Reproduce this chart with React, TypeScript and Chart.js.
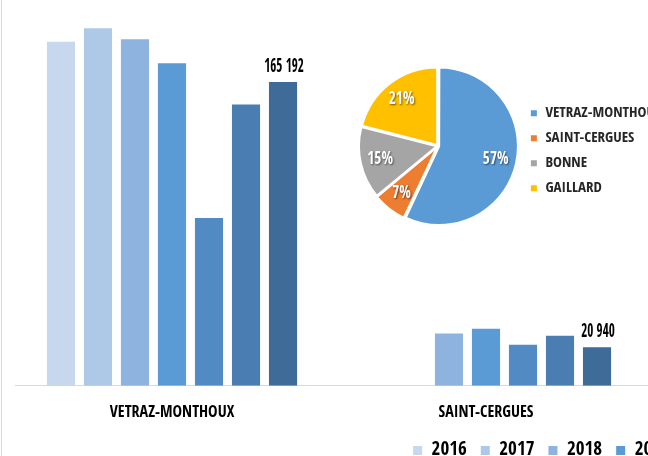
import { useEffect, useRef } from 'react';
import { Chart, registerables } from 'chart.js';

Chart.register(...registerables);

const communes = ['VETRAZ-MONTHOUX', 'SAINT-CERGUES', 'BONNE', 'GAILLARD'];
const years = ['2016', '2017', '2018', '2019', '2020', '2021', '2022'];
const v2016 = [187100, null];
const v2017 = [194400, null];
const v2018 = [188400, 28400];
const v2019 = [175400, 31000];
const v2020 = [91300, 22300];
const v2021 = [152900, 27200];
const v2022 = [165192, 20940];
const yearSeries = [v2016, v2017, v2018, v2019, v2020, v2021, v2022];
const yearColors = ['#C6D7EE', '#AEC8E7', '#8EB3DE', '#5B9BD5', '#528BC4', '#4A7DB1', '#3E6B97'];

const pieLabels = ['VETRAZ-MONTHOUX', 'SAINT-CERGUES', 'BONNE', 'GAILLARD'];
const pieShares = [57, 7, 15, 21];
const pieColors = ['#5B9BD5', '#ED7D31', '#A5A5A5', '#FFC000'];

const FONT = '"Open Sans Condensed", "Roboto Condensed", "DejaVu Sans Condensed", sans-serif';

const fmt = (v: number) => String(v).replace(/\B(?=(\d{3})+(?!\d))/g, ' ');

const barLabelPlugin = {
  id: 'barLabels',
  afterDatasetsDraw(chart: any) {
    const ctx = chart.ctx;
    const last = chart.data.datasets.length - 1;
    const meta = chart.getDatasetMeta(last);
    ctx.save();
    ctx.font = `bold 19px ${FONT}`;
    ctx.fillStyle = '#000';
    ctx.textAlign = 'center';
    ctx.textBaseline = 'alphabetic';
    meta.data.forEach((el: any, i: number) => {
      const v = chart.data.datasets[last].data[i];
      if (v == null) return;
      ctx.save();
      ctx.translate(el.x + 1, el.y - 10);
      ctx.scale(0.69, 1);
      ctx.fillText(fmt(v), 0, 0);
      ctx.restore();
    });
    ctx.restore();
  },
};

const pieLabelPlugin = {
  id: 'pieLabels',
  afterDatasetsDraw(chart: any) {
    const ctx = chart.ctx;
    const meta = chart.getDatasetMeta(0);
    const ds = chart.data.datasets[0];
    ctx.save();
    ctx.font = `bold 18px ${FONT}`;
    ctx.fillStyle = '#fff';
    ctx.textAlign = 'center';
    ctx.textBaseline = 'middle';
    ctx.shadowColor = 'rgba(0,0,0,0.55)';
    ctx.shadowBlur = 2;
    ctx.shadowOffsetX = 1;
    ctx.shadowOffsetY = 1;
    meta.data.forEach((el: any, i: number) => {
      const p = el.getProps(['x', 'y', 'startAngle', 'endAngle', 'outerRadius']);
      const mid = (p.startAngle + p.endAngle) / 2;
      const r = p.outerRadius * 0.7 + 5;
      ctx.save();
      ctx.translate(p.x + Math.cos(mid) * r, p.y + Math.sin(mid) * r);
      ctx.scale(0.85, 1);
      ctx.fillText(ds.data[i] + '%', 0, 0);
      ctx.restore();
    });
    ctx.restore();
  },
};

export default function App() {
  const barRef = useRef<HTMLCanvasElement>(null);
  const pieRef = useRef<HTMLCanvasElement>(null);

  useEffect(() => {
    const bar = new Chart(barRef.current!, {
      type: 'bar',
      data: {
        labels: communes,
        datasets: years.map((y, i) => ({
          label: y,
          data: yearSeries[i],
          backgroundColor: yearColors[i],
          borderWidth: 0,
          categoryPercentage: 0.825,
          barPercentage: 0.76,
        })),
      },
      options: {
        responsive: false,
        animation: false,
        layout: { padding: { left: 15, right: 35, top: 18, bottom: 0 } },
        scales: {
          x: {
            grid: { display: false, drawTicks: false },
            border: { color: '#D9D9D9' },
            ticks: { color: '#000', font: { family: FONT, size: 16, weight: 'bold' }, padding: 17 },
            afterFit: (scale: any) => {
              scale.height -= 12;
            },
          },
          y: { display: false, min: 0, max: 200000 },
        },
        plugins: {
          legend: {
            position: 'bottom',
            labels: {
              boxWidth: 9,
              boxHeight: 9,
              color: '#000',
              padding: 14,
              font: { family: FONT, size: 19, weight: 'bold' },
            },
          },
          tooltip: { enabled: false },
        },
      },
      plugins: [barLabelPlugin],
    } as any);

    const pie = new Chart(pieRef.current!, {
      type: 'pie',
      data: {
        labels: pieLabels,
        datasets: [
          {
            data: pieShares,
            backgroundColor: pieColors,
            borderColor: '#fff',
            borderWidth: 2,
            offset: 5,
          },
        ],
      },
      options: {
        responsive: false,
        animation: false,
        layout: { padding: { left: 0, top: 5, bottom: 5, right: 0 } },
        plugins: {
          legend: {
            position: 'right',
            title: { display: true, text: ' ', padding: 0, font: { size: 8 } },
            labels: {
              boxWidth: 8,
              boxHeight: 8,
              color: '#262626',
              padding: 10,
              font: { family: FONT, size: 15, weight: 'bold' },
            },
          },
          tooltip: { enabled: false },
        },
      },
      plugins: [pieLabelPlugin],
    } as any);

    return () => {
      bar.destroy();
      pie.destroy();
    };
  }, []);

  return (
    <div
      style={{
        position: 'fixed',
        left: 0,
        top: 0,
        width: 648,
        height: 456,
        overflow: 'hidden',
        background: '#fff',
      }}
    >
      <canvas ref={barRef} width={1306} height={470} style={{ position: 'absolute', left: 0, top: 0 }} />
      <canvas ref={pieRef} width={316} height={172} style={{ position: 'absolute', left: 356, top: 60 }} />
      <div style={{ position: 'absolute', left: 1, top: 0, width: 1, height: 456, background: '#D9D9D9' }} />
    </div>
  );
}
